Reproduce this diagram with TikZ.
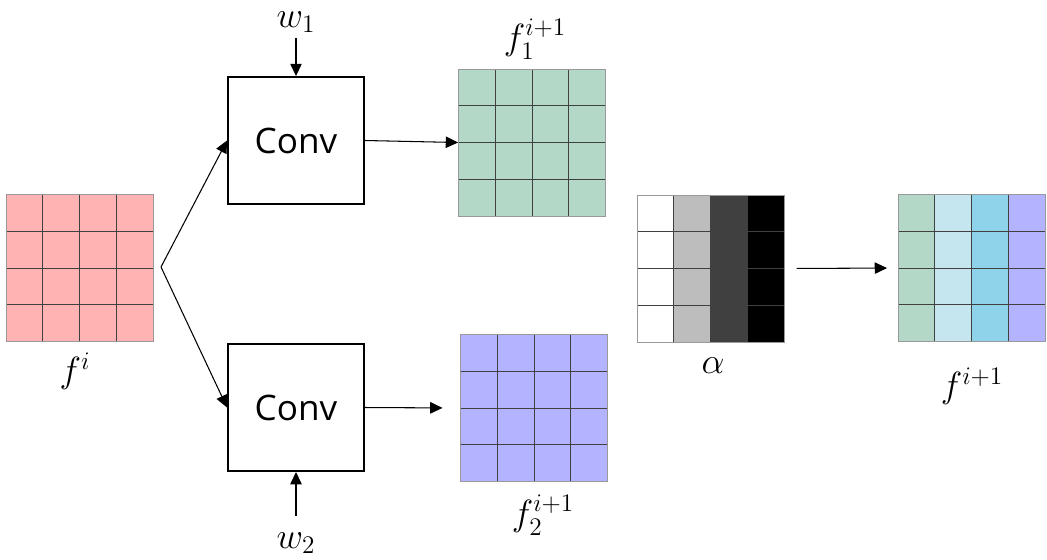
\documentclass[tikz,border=0pt]{standalone}
\usepackage{fontspec}
\setsansfont{Open Sans}
\usepackage{amsmath}
\usetikzlibrary{arrows.meta, positioning, calc}

\definecolor{pinkcell}{RGB}{255,179,179}
\definecolor{greencell}{RGB}{179,216,200}
\definecolor{bluecell}{RGB}{179,179,255}
\definecolor{palebluecell}{RGB}{198,230,239}
\definecolor{skycell}{RGB}{143,211,234}
\definecolor{alphagray}{RGB}{189,189,189}
\definecolor{alphadark}{RGB}{64,64,64}

\begin{document}
\begin{tikzpicture}[
  x=0.02cm, y=-0.02cm,
  font=\fontsize{20}{24}\selectfont,
  >={Triangle[length=7pt,width=6.5pt]},
  arr/.style={->, line width=0.6pt},
  conv/.style={draw, line width=1.1pt, minimum width=2.72cm, minimum height=2.54cm, inner sep=0pt, font=\fontsize{20}{24}\selectfont\sffamily},
  lbl/.style={inner sep=1pt},
  fmap/.style n args={4}{rectangle, inner sep=0pt, minimum width=2.94cm, minimum height=2.94cm, draw=gray!80, line width=0.5pt,
    path picture={
      \foreach \c [count=\k from 0] in {#1,#2,#3,#4}
        \fill[\c] ($(path picture bounding box.north west)!\k/4!(path picture bounding box.north east)$) rectangle ($(path picture bounding box.south west)!{(\k+1)/4}!(path picture bounding box.south east)$);
      \foreach \k in {1,2,3} {
        \draw[black!75, line width=0.5pt] ($(path picture bounding box.north west)!\k/4!(path picture bounding box.north east)$) -- ($(path picture bounding box.south west)!\k/4!(path picture bounding box.south east)$);
        \draw[black!75, line width=0.5pt] ($(path picture bounding box.north west)!\k/4!(path picture bounding box.south west)$) -- ($(path picture bounding box.north east)!\k/4!(path picture bounding box.south east)$);
      }
    }}
  ]
  \useasboundingbox (0,0) rectangle (1047,559);

  % feature maps
  \node[fmap={pinkcell}{pinkcell}{pinkcell}{pinkcell}] (fi) at (79.5,268) {};
  \node[fmap={greencell}{greencell}{greencell}{greencell}] (f1) at (532,142.5) {};
  \node[fmap={bluecell}{bluecell}{bluecell}{bluecell}] (f2) at (534,408) {};
  \node[fmap={white}{alphagray}{alphadark}{black}] (alpha) at (710.5,268.5) {};
  \node[fmap={greencell}{palebluecell}{skycell}{bluecell}] (fout) at (971.5,268) {};

  % conv blocks
  \node[conv] (conv1) at (296,140.5) {Conv};
  \node[conv] (conv2) at (296,407.5) {Conv};

  % labels
  \node[lbl] (w1) at (296,22) {$w_1$};
  \node[lbl] (w2) at (296,543) {$w_2$};
  \node[lbl] (fil) at (75,371) {$f^i$};
  \node[lbl] (f1l) at (535,39) {$f_1^{i+1}$};
  \node[lbl] (f2l) at (543,515) {$f_2^{i+1}$};
  \node[lbl] (alphal) at (713,366) {$\alpha$};
  \node[lbl] (foutl) at (972,386) {$f^{i+1}$};

  % connections
  \coordinate (fork) at (161,267);
  \draw[arr] (fork) -- (conv1.west);
  \draw[arr] (fork) -- (conv2.west);
  \draw[arr, shorten <=2pt] (w1) -- (conv1.north);
  \draw[arr, shorten <=8pt] (w2) -- (conv2.south);
  \draw[arr] (conv1.east) -- (f1.west);
  \draw[arr, shorten >=10pt] (conv2.east) -- (f2.west);
  \draw[arr, shorten <=7pt, shorten >=6pt] (alpha.east) -- (fout.west);
\end{tikzpicture}
\end{document}
